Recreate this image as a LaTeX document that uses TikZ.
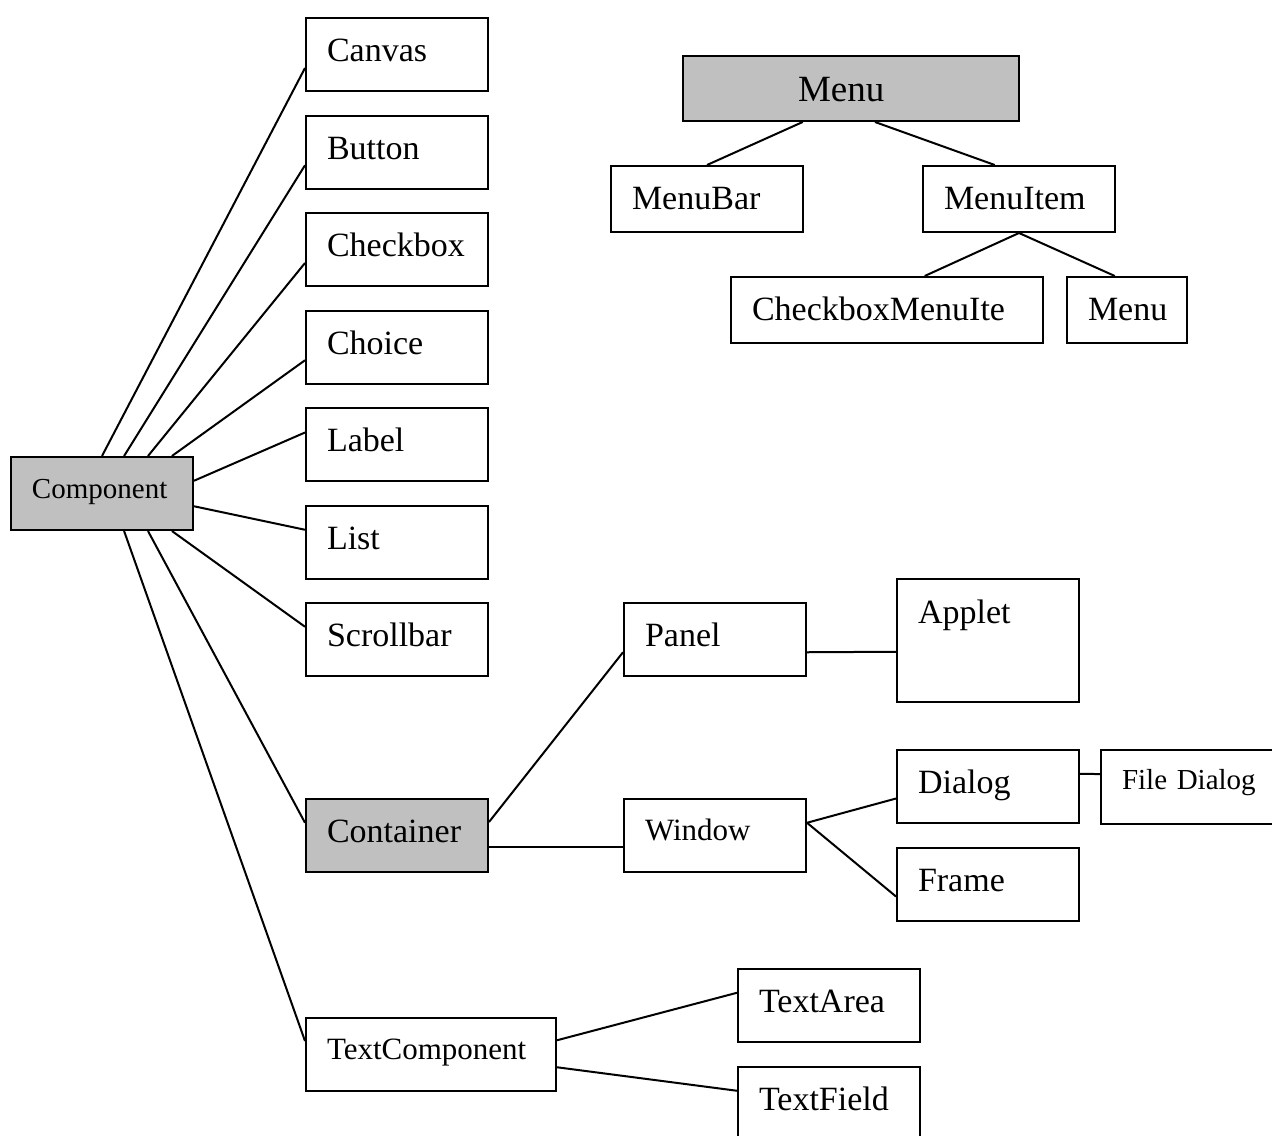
\documentclass[tikz,border=0pt]{standalone}
\usepackage{fontspec}
\setmainfont{Liberation Serif}
\usetikzlibrary{calc}
\definecolor{boxgray}{RGB}{192,192,192}

\begin{document}
\begin{tikzpicture}
    [
      x=0.5pt,
      y=-0.5pt,
      line width=1pt,
      cls/.style=
      {
        draw,
        anchor=north west,
        align=left,
        text width=70pt,
        inner xsep=10.5pt,
        inner ysep=0pt,
        text height=21.5pt,
        text depth=15pt,
        fill=white,
        text=black,
        font=\fontsize{17pt}{20pt}\selectfont
      },
      base/.style=
      {
        cls,
        fill=boxgray
      },
      flat/.style=
      {
        text depth=11.5pt
      },
      smaller/.style=
      {
        font=\fontsize{15.5pt}{18pt}\selectfont,
        text height=20.5pt,
        text depth=16pt
      },
      smallest/.style=
      {
        font=\fontsize{14.5pt}{17pt}\selectfont
      }
    ]
    \useasboundingbox (0,0) rectangle (1272,1135);
    \clip (0,0) rectangle (1272,1135);

    % component tree
    \node[base, smallest, text height=20.5pt, text depth=16pt](Component) at (10,456) {Component};
    \node[cls](Canvas) at (305,17) {Canvas};
    \node[cls](Button) at (305,115) {Button};
    \node[cls](Checkbox) at (305,212) {Checkbox};
    \node[cls](Choice) at (305,310) {Choice};
    \node[cls](Label) at (305,407) {Label};
    \node[cls](List) at (305,505) {List};
    \node[cls](Scrollbar) at (305,602) {Scrollbar};
    \node[base](Container) at (305,798) {Container};
    \node[cls, smaller, text width=104pt](TextComponent) at (305,1017) {TextComponent};

    \node[cls](Panel) at (623,602) {Panel};
    \node[cls, text height=22pt, text depth=39.5pt](Applet) at (896,578) {Applet};
    \node[cls, smaller](Window) at (623,798) {Window};
    \node[cls](Dialog) at (896,749) {Dialog};
    \node[cls, smallest, text width=74pt, text height=19.5pt, text depth=17.5pt](FileDialog) at (1100,749) {File Dialog};
    \node[cls](Frame) at (896,847) {Frame};
    \node[cls](TextArea) at (737,968) {TextArea};
    \node[cls](TextField) at (737,1066) {TextField};

    % menu tree
    \node[base, font=\fontsize{18.5pt}{22pt}\selectfont, text width=53pt, inner xsep=57.5pt,
          text height=22.5pt, text depth=10pt](Menu) at (682,55) {Menu};
    \node[cls, flat, text width=75pt](MenuBar) at (610,165) {MenuBar};
    \node[cls, flat, text width=75pt](MenuItem) at (922,165) {MenuItem};
    \node[cls, flat, text width=135pt](CheckboxMenu) at (730,276) {CheckboxMenuIte};
    \node[cls, flat, text width=39pt](SubMenu) at (1066,276) {Menu};

    \draw ($(Component.north west)!.5!(Component.north east)$) -- ($(Canvas.north west)!.68!(Canvas.south west)$);
    \draw ($(Component.north west)!.62!(Component.north east)$) -- ($(Button.north west)!.67!(Button.south west)$);
    \draw ($(Component.north west)!.75!(Component.north east)$) -- ($(Checkbox.north west)!.68!(Checkbox.south west)$);
    \draw ($(Component.north west)!.88!(Component.north east)$) -- ($(Choice.north west)!.67!(Choice.south west)$);
    \draw ($(Component.north east)!.33!(Component.south east)$) -- ($(Label.north west)!.34!(Label.south west)$);
    \draw ($(Component.north east)!.67!(Component.south east)$) -- ($(List.north west)!.33!(List.south west)$);
    \draw ($(Component.south west)!.88!(Component.south east)$) -- ($(Scrollbar.north west)!.33!(Scrollbar.south west)$);
    \draw ($(Component.south west)!.75!(Component.south east)$) -- ($(Container.north west)!.33!(Container.south west)$);
    \draw ($(Component.south west)!.62!(Component.south east)$) -- ($(TextComponent.north west)!.32!(TextComponent.south west)$);

    \draw ($(Container.north east)!.32!(Container.south east)$) -- ($(Panel.north west)!.67!(Panel.south west)$);
    \draw ($(Container.north east)!.65!(Container.south east)$) -- ($(Window.north west)!.65!(Window.south west)$);
    \draw ($(Panel.north east)!.67!(Panel.south east)$) -- ($(Applet.north west)!.59!(Applet.south west)$);
    \draw ($(Window.north east)!.33!(Window.south east)$) -- ($(Dialog.north west)!.66!(Dialog.south west)$);
    \draw ($(Window.north east)!.33!(Window.south east)$) -- ($(Frame.north west)!.66!(Frame.south west)$);
    \draw ($(Dialog.north east)!.33!(Dialog.south east)$) -- ($(FileDialog.north west)!.33!(FileDialog.south west)$);
    \draw ($(TextComponent.north east)!.31!(TextComponent.south east)$) -- ($(TextArea.north west)!.33!(TextArea.south west)$);
    \draw ($(TextComponent.north east)!.67!(TextComponent.south east)$) -- ($(TextField.north west)!.33!(TextField.south west)$);

    \draw ($(Menu.south west)!.357!(Menu.south east)$) -- ($(MenuBar.north west)!.5!(MenuBar.north east)$);
    \draw ($(Menu.south west)!.571!(Menu.south east)$) -- ($(MenuItem.north west)!.375!(MenuItem.north east)$);
    \draw ($(MenuItem.south west)!.5!(MenuItem.south east)$) -- ($(CheckboxMenu.north west)!.62!(CheckboxMenu.north east)$);
    \draw ($(MenuItem.south west)!.5!(MenuItem.south east)$) -- ($(SubMenu.north west)!.4!(SubMenu.north east)$);
  \end{tikzpicture}
\end{document}
